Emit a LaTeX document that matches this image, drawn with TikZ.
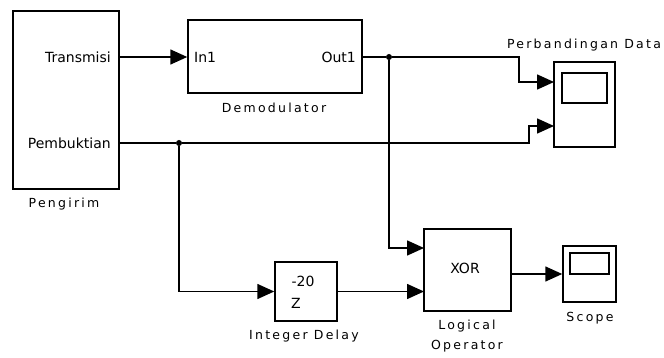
\documentclass[tikz,border=0pt]{standalone}
\usepackage{fontspec}
\setmainfont{DejaVu Sans}
\newfontfamily\lblfont[LetterSpace=18]{DejaVu Sans}
\usetikzlibrary{arrows.meta,positioning}

\begin{document}
\begin{tikzpicture}[x=1pt, y=-1pt,
  block/.style={draw, line width=1.5pt, inner sep=0pt},
  wire/.style={line width=1.6pt},
  sig/.style={line width=1.6pt, -{Triangle[length=17pt, width=15pt]}},
  port/.style={font=\fontsize{14}{15}\selectfont, inner sep=0pt},
  lbl/.style={font=\lblfont\fontsize{12.5}{20}\selectfont, inner sep=0pt, align=center},
  dot/.style={circle, fill, inner sep=0pt, minimum size=6pt}]
\useasboundingbox (0,0) rectangle (664,358);

% blocks
\node[block, minimum width=106pt, minimum height=178pt] (pengirim) at (66,100) {};
\node[block, minimum width=174pt, minimum height=73pt] (demod) at (275,56.5) {};
\node[block, minimum width=61pt, minimum height=85pt] (scopeA) at (584.5,104.5) {};
\node[block, minimum width=45pt, minimum height=30pt] (screenA) at (584.5,88) {};
\node[block, minimum width=62pt, minimum height=59pt] (delay) at (306,291.5) {};
\node[block, minimum width=87pt, minimum height=82pt] (xor) at (467.5,270) {};
\node[block, minimum width=53pt, minimum height=56pt] (scopeB) at (589.5,274) {};
\node[block, minimum width=39pt, minimum height=21pt] (screenB) at (589.5,263.5) {};

% texts inside blocks
\node[port, anchor=east] (transmisi) at (111,57) {Transmisi};
\node[port, anchor=east] (pembuktian) at (111,143) {Pembuktian};
\node[port, anchor=west] (in1) at (194,57) {In1};
\node[port, anchor=east] (out1) at (356,57) {Out1};
\node[port] (pangkat) at (303,281) {-20};
\node[port] (zvar) at (296,303) {Z};
\node[port] (xortext) at (465,268) {XOR};

% block names
\node[lbl] (lpengirim) at (64,204) {Pengirim};
\node[lbl] (ldemod) at (274,108) {Demodulator};
\node[lbl] (lscopeA) at (584,45) {Perbandingan Data};
\node[lbl] (ldelay) at (304,336) {Integer Delay};
\node[lbl] (lxor) at (467,336) {Logical\\Operator};
\node[lbl] (lscopeB) at (590,318) {Scope};

% ports and branch points
\coordinate (tx) at (119,57);
\coordinate (pb) at (119,143);
\coordinate (dout) at (362,57);
\coordinate (inA1) at (554,82);
\coordinate (inA2) at (554,126);
\coordinate (xin1) at (424,248);
\coordinate (xin2) at (424,291.5);
\coordinate (xout) at (511,274);
\node[dot] (j1) at (389,57) {};
\node[dot] (j2) at (179,143) {};

% signals
\draw[sig] (tx) -- (demod.west |- tx);
\draw[wire] (dout) -- (j1);
\draw[sig] (j1) -- (519,57) |- (inA1);
\draw[sig] (j1) |- (xin1);
\draw[wire] (pb) -- (j2);
\draw[sig] (j2) -- (529,143) |- (inA2);
\draw[sig] (j2) |- (delay.west);
\draw[sig] (delay.east) -- (xin2);
\draw[sig] (xout) -- (scopeB.west |- xout);
\end{tikzpicture}
\end{document}
